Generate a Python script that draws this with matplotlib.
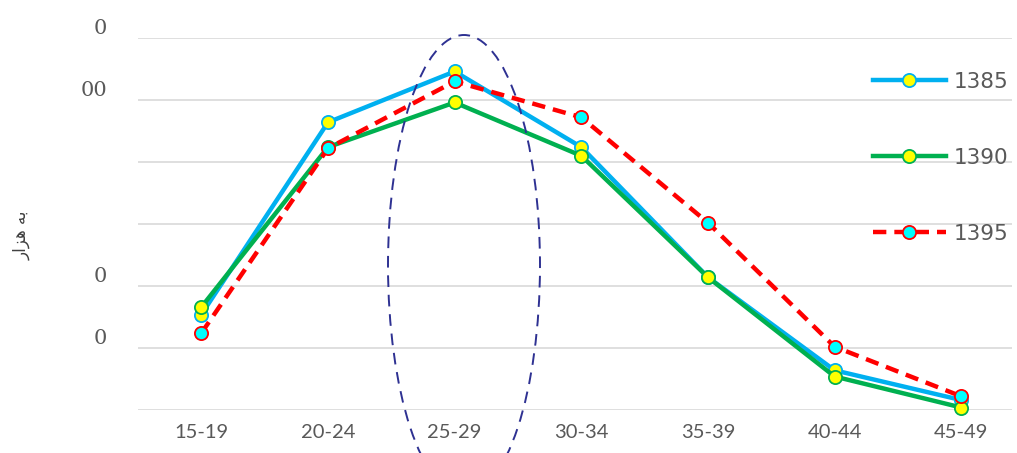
import matplotlib.pyplot as plt
from matplotlib.patches import Ellipse

ages = ['15-19', '20-24', '25-29', '30-34', '35-39', '40-44', '45-49']
y1385 = [77, 232, 273, 212, 107, 32, 8]
y1390 = [83, 212, 248, 205, 107, 27, 2]
y1395 = [62, 211, 265, 236, 151, 51, 11]
yticks = [0, 50, 100, 150, 200, 250, 300]
ytick_labels = ['', '0', '0', '', '', '00', '0']

fig = plt.figure(figsize=(10.17, 4.53), dpi=100)
ax = fig.add_axes([138 / 1017, 43 / 453, 874 / 1017, 372 / 453])
x = list(range(len(ages)))

ax.plot(x, y1385, color='#00B0F0', lw=3.2, marker='o', ms=9.5,
        mfc='#FFFF00', mec='#00B0F0', mew=1.3, label='1385', clip_on=False, zorder=3)
ax.plot(x, y1390, color='#00B050', lw=3.2, marker='o', ms=9.5,
        mfc='#FFFF00', mec='#00B050', mew=1.3, label='1390', clip_on=False, zorder=3)
ax.plot(x, y1395, color='#FF0000', lw=3.2, ls=(0, (3, 1.8)), marker='o', ms=9.5,
        mfc='#00FFFF', mec='#FF0000', mew=1.3, label='1395', clip_on=False, zorder=4)

ax.set_xlim(-0.5, 6.4)
ax.set_ylim(0, 300)
ax.set_xticks(x)
ax.set_xticklabels(ages, fontsize=14.5, color='#595959', family='Lato')
ax.set_yticks(yticks)
ax.set_yticklabels(ytick_labels, fontsize=15, color='#595959', family='DejaVu Serif',
                   va='bottom')
ax.tick_params(axis='y', length=0, pad=22)
ax.tick_params(axis='x', length=0, pad=10)
ax.grid(axis='y', color='#D9D9D9', lw=1.2)
ax.set_axisbelow(True)
for s in ax.spines.values():
    s.set_visible(False)

# y label "به هزار" in shaped presentation forms, visual order
fig.text(22 / 1017, 1 - 235 / 453, '\uFEAD\uFE8D\uFEB0\uFEEB \uFEEA\uFE91',
         rotation=90, ha='center', va='center', fontsize=12, color='#404040',
         family=['DejaVu Sans'])

leg = ax.legend(loc='upper left', frameon=False, fontsize=15.5,
                labelcolor='#595959', handlelength=3.4, labelspacing=2.6,
                borderaxespad=0, handletextpad=0.35)
leg.set_bbox_to_anchor((864 / 1017, 1 - 63 / 453), transform=fig.transFigure)

ell = Ellipse((464 / 1017, 1 - 265 / 453), 152 / 1017, 460 / 453,
              transform=fig.transFigure, fill=False, ec='#2E3192', lw=1.4,
              ls=(0, (6, 4)), zorder=5)
fig.patches.append(ell)

fig.savefig('out.png', dpi=100)
